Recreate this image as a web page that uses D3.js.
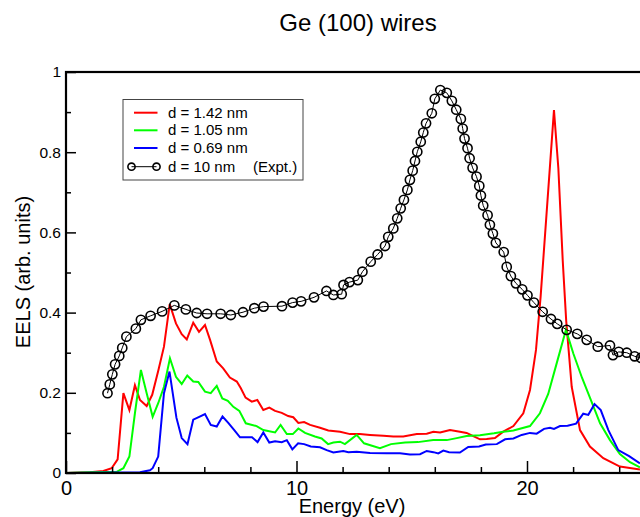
<!DOCTYPE html>
<html><head><meta charset="utf-8">
<script src="https://cdn.jsdelivr.net/npm/d3@7"></script>
<style>body{margin:0;background:#fff}svg{display:block;font-family:"Liberation Sans",Arial,sans-serif}</style>
</head><body><svg id="c" width="640" height="517"></svg>
<script>
const title = "Ge (100) wires";
const xLabel = "Energy (eV)";
const yLabel = "EELS (arb. units)";
const xMajorTicks = [0, 10, 20];
const xMinorTicks = [2, 4, 6, 8, 12, 14, 16, 18, 22, 24];
const yMajorTicks = [0, 0.2, 0.4, 0.6, 0.8, 1];
const yMinorTicks = [0.1, 0.3, 0.5, 0.7, 0.9];
const seriesNames = ["d = 1.42 nm", "d = 1.05 nm", "d = 0.69 nm", "d = 10 nm"];
const exptNote = "(Expt.)";

const d142 = [[0,0],[1.04,0.002],[1.62,0.005],[1.98,0.012],[2.24,0.034],[2.49,0.199],[2.75,0.157],[2.99,0.219],[3.21,0.182],[3.50,0.167],[3.74,0.195],[4.01,0.257],[4.25,0.315],[4.50,0.421],[4.77,0.373],[5.02,0.346],[5.24,0.333],[5.52,0.375],[5.77,0.352],[6.03,0.369],[6.25,0.332],[6.54,0.278],[6.82,0.261],[7.11,0.238],[7.41,0.228],[7.58,0.212],[7.79,0.188],[8.06,0.178],[8.30,0.182],[8.56,0.157],[8.82,0.163],[9.07,0.155],[9.36,0.150],[9.64,0.142],[9.86,0.139],[10.08,0.125],[10.33,0.127],[10.59,0.120],[11.02,0.113],[11.38,0.106],[11.89,0.103],[12.32,0.097],[12.75,0.097],[13.19,0.095],[13.77,0.093],[14.20,0.091],[14.63,0.091],[15.22,0.097],[15.65,0.098],[15.94,0.103],[16.23,0.101],[16.66,0.107],[17.09,0.103],[17.38,0.100],[17.67,0.092],[17.96,0.084],[18.25,0.085],[18.61,0.087],[18.97,0.103],[19.41,0.117],[19.84,0.149],[20.13,0.207],[20.39,0.307],[20.59,0.439],[21.17,0.905],[21.36,0.76],[21.55,0.53],[21.70,0.38],[21.94,0.215],[22.30,0.107],[22.73,0.066],[23.31,0.037],[24.03,0.016],[24.90,0.009]];

const d105 = [[0,0],[1.04,0.002],[2.2,0.003],[2.49,0.012],[2.75,0.041],[2.99,0.149],[3.25,0.257],[3.50,0.199],[3.76,0.140],[4.00,0.174],[4.25,0.215],[4.51,0.286],[4.77,0.240],[5.02,0.222],[5.26,0.243],[5.52,0.228],[5.74,0.227],[6.03,0.203],[6.28,0.199],[6.54,0.217],[6.78,0.186],[7.02,0.180],[7.26,0.165],[7.52,0.155],[7.80,0.124],[8.27,0.117],[8.56,0.107],[9.07,0.101],[9.31,0.120],[9.58,0.097],[9.84,0.097],[10.08,0.111],[10.37,0.100],[10.80,0.091],[11.09,0.086],[11.37,0.072],[11.60,0.076],[11.89,0.078],[12.10,0.072],[12.61,0.095],[12.93,0.074],[13.62,0.062],[14.10,0.072],[14.71,0.076],[15.27,0.077],[15.93,0.082],[16.52,0.082],[16.95,0.087],[17.38,0.092],[17.96,0.094],[18.57,0.099],[18.97,0.103],[19.41,0.106],[20.13,0.117],[20.56,0.149],[20.92,0.197],[21.29,0.274],[21.69,0.357],[22.01,0.298],[22.39,0.237],[22.73,0.188],[23.17,0.124],[23.60,0.082],[24.03,0.047],[24.47,0.027],[24.90,0.014]];

const d069 = [[0,0],[3.21,0.002],[3.64,0.007],[3.76,0.012],[4.00,0.041],[4.25,0.199],[4.49,0.253],[4.79,0.138],[5.02,0.087],[5.27,0.072],[5.52,0.133],[5.78,0.140],[6.03,0.147],[6.28,0.120],[6.54,0.116],[6.79,0.141],[7.04,0.125],[7.30,0.107],[7.55,0.089],[7.84,0.089],[8.07,0.089],[8.31,0.077],[8.56,0.101],[8.82,0.076],[9.07,0.079],[9.36,0.077],[9.58,0.082],[9.82,0.059],[10.07,0.074],[10.33,0.072],[10.62,0.066],[11.02,0.064],[11.31,0.057],[11.60,0.051],[12.03,0.055],[12.25,0.052],[12.61,0.053],[13.19,0.050],[13.91,0.049],[14.49,0.049],[14.92,0.046],[15.36,0.047],[15.65,0.055],[15.94,0.052],[16.15,0.049],[16.37,0.056],[16.62,0.052],[17.09,0.051],[17.45,0.065],[17.92,0.066],[18.21,0.071],[18.69,0.072],[19.05,0.084],[19.41,0.086],[19.77,0.095],[20.13,0.100],[20.42,0.098],[20.74,0.110],[21.0,0.113],[21.17,0.110],[21.43,0.117],[21.76,0.118],[22.13,0.123],[22.44,0.148],[22.66,0.145],[22.93,0.172],[23.20,0.157],[23.53,0.107],[23.96,0.057],[24.43,0.042],[24.90,0.024]];

const dExpt = [[1.80,0.199],[1.90,0.221],[2.01,0.246],[2.13,0.271],[2.31,0.292],[2.44,0.312],[2.62,0.340],[3.03,0.360],[3.25,0.382],[3.67,0.392],[4.17,0.403],[4.70,0.418],[5.20,0.408],[5.67,0.399],[6.12,0.397],[6.71,0.397],[7.15,0.394],[7.68,0.401],[8.17,0.411],[8.57,0.415],[9.37,0.416],[9.83,0.425],[10.20,0.428],[10.76,0.438],[11.30,0.454],[11.60,0.444],[11.96,0.446],[12.04,0.469],[12.30,0.476],[12.66,0.481],[12.86,0.502],[13.22,0.527],[13.52,0.545],[13.84,0.566],[13.98,0.589],[14.20,0.610],[14.37,0.635],[14.52,0.660],[14.66,0.681],[14.81,0.706],[14.92,0.731],[15.04,0.754],[15.14,0.778],[15.24,0.801],[15.39,0.826],[15.50,0.849],[15.62,0.872],[15.87,0.897],[16.00,0.933],[16.24,0.955],[16.52,0.948],[16.74,0.928],[16.93,0.906],[17.13,0.883],[17.21,0.859],[17.29,0.834],[17.42,0.810],[17.51,0.785],[17.64,0.761],[17.81,0.739],[17.93,0.716],[18.00,0.692],[18.10,0.667],[18.29,0.643],[18.39,0.619],[18.52,0.597],[18.65,0.574],[18.99,0.551],[19.12,0.514],[19.30,0.491],[19.52,0.473],[19.79,0.458],[20.02,0.443],[20.30,0.425],[20.68,0.402],[21.04,0.384],[21.31,0.372],[21.72,0.357],[22.18,0.347],[22.59,0.332],[23.07,0.315],[23.60,0.318],[23.73,0.294],[23.98,0.302],[24.33,0.300],[24.67,0.291],[24.95,0.287]];

const colors = ["#ff0000", "#00ff00", "#0000ff", "#000000"];

const svg = d3.select("#c");
const x = d3.scaleLinear().domain([0, 25]).range([66, 642.25]);
const y = d3.scaleLinear().domain([0, 1]).range([473, 72]);

// title
svg.append("text").attr("x", 358).attr("y", 31).attr("text-anchor", "middle")
  .attr("font-size", 24).text(title);

// curves
const line = d3.line().x(d => x(d[0])).y(d => y(d[1]));
[d142, d105, d069].forEach((s, i) => {
  svg.append("path").datum(s).attr("d", line).attr("fill", "none")
    .attr("stroke", colors[i]).attr("stroke-width", 2);
});
svg.append("path").datum(dExpt).attr("d", line).attr("fill", "none")
  .attr("stroke", "#000").attr("stroke-width", 1);
svg.append("g").selectAll("circle").data(dExpt).join("circle")
  .attr("cx", d => x(d[0])).attr("cy", d => y(d[1])).attr("r", 4.6)
  .attr("fill", "none").attr("stroke", "#000").attr("stroke-width", 1.6);

// axes
function styleAxis(g) {
  g.select(".domain").remove();
  g.selectAll(".tick line").attr("stroke", "#000").attr("stroke-width", 1.5);
  g.selectAll(".tick text").attr("fill", "#000").attr("font-family", "Liberation Sans, Arial, sans-serif");
}
svg.append("g").attr("transform", "translate(0,473)")
  .call(d3.axisBottom(x).tickValues(xMajorTicks).tickSize(-12).tickPadding(8).tickFormat(d3.format("d")))
  .call(styleAxis).selectAll("text").attr("font-size", 20);
svg.append("g").attr("transform", "translate(0,473)")
  .call(d3.axisBottom(x).tickValues(xMinorTicks).tickSize(-6).tickFormat(""))
  .call(styleAxis);
svg.append("g").attr("transform", "translate(66,0)")
  .call(d3.axisLeft(y).tickValues(yMajorTicks).tickSize(-10).tickPadding(5).tickFormat(d => String(d)))
  .call(styleAxis).selectAll("text").attr("font-size", 15.5);
svg.append("g").attr("transform", "translate(66,0)")
  .call(d3.axisLeft(y).tickValues(yMinorTicks).tickSize(-5).tickFormat(""))
  .call(styleAxis);

// frame
svg.append("rect").attr("x", x(0)).attr("y", y(1)).attr("width", x(25) - x(0)).attr("height", y(0) - y(1))
  .attr("fill", "none").attr("stroke", "#000").attr("stroke-width", 2.2);

// axis labels
svg.append("text").attr("x", 352).attr("y", 513).attr("text-anchor", "middle")
  .attr("font-size", 20).text(xLabel);
svg.append("text").attr("transform", "translate(30,272) rotate(-90)").attr("text-anchor", "middle")
  .attr("font-size", 20).text(yLabel);

// legend
const lg = svg.append("g");
lg.append("rect").attr("x", 123).attr("y", 99.5).attr("width", 180).attr("height", 80.5)
  .attr("fill", "#fff").attr("stroke", "#444").attr("stroke-width", 1);
const rowY = [112.7, 130.3, 148, 166.7];
seriesNames.forEach((name, i) => {
  if (i < 3) {
    lg.append("line").attr("x1", 134).attr("x2", 157.5).attr("y1", rowY[i]).attr("y2", rowY[i])
      .attr("stroke", colors[i]).attr("stroke-width", 2);
  } else {
    lg.append("line").attr("x1", 131.5).attr("x2", 156.5).attr("y1", rowY[i]).attr("y2", rowY[i])
      .attr("stroke", "#000").attr("stroke-width", 1);
    [131.5, 156.5].forEach(cx => lg.append("circle").attr("cx", cx).attr("cy", rowY[i]).attr("r", 3.6)
      .attr("fill", "none").attr("stroke", "#000").attr("stroke-width", 1.6));
  }
  lg.append("text").attr("x", 168).attr("y", rowY[i] + 5).attr("font-size", 15).text(name);
});
lg.append("text").attr("x", 253).attr("y", rowY[3] + 5).attr("font-size", 15).text(exptNote);
</script></body></html>
